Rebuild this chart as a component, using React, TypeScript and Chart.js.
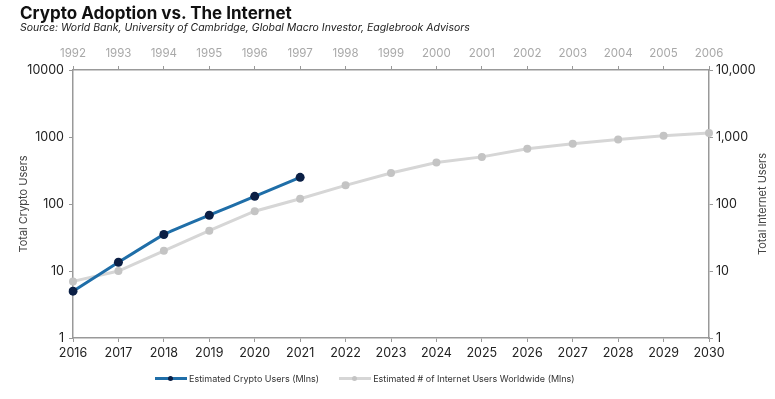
import React, { useEffect, useRef } from "react";
import { Chart, registerables } from "chart.js";

Chart.register(...registerables);

// Bottom axis: calendar years for crypto adoption
const cryptoYears = ["2016", "2017", "2018", "2019", "2020", "2021", "2022", "2023", "2024", "2025", "2026", "2027", "2028", "2029", "2030"];
// Top axis: matching internet-era years
const internetYears = ["1992", "1993", "1994", "1995", "1996", "1997", "1998", "1999", "2000", "2001", "2002", "2003", "2004", "2005", "2006"];

// Estimated crypto users (millions), 2016-2021
const cryptoUsers = [5, 13.5, 35, 68, 130, 250];
// Estimated internet users worldwide (millions), 1992-2006
const internetUsers = [7, 10, 20, 40, 78, 120, 190, 290, 415, 505, 670, 790, 920, 1040, 1150];

const logTicks = [1, 10, 100, 1000, 10000];

const AXIS_GRAY = "#999999";
const FONT = "Inter, 'Open Sans', sans-serif";

export default function App() {
  const canvasRef = useRef<HTMLCanvasElement | null>(null);

  useEffect(() => {
    document.body.style.margin = "0";
    const canvas = canvasRef.current;
    if (!canvas) return;

    const rightTitle = {
      id: "rightTitle",
      afterDraw(chart: any) {
        const { ctx, chartArea } = chart;
        ctx.save();
        ctx.translate(763, (chartArea.top + chartArea.bottom) / 2);
        ctx.rotate(-Math.PI / 2);
        ctx.font = `11px ${FONT}`;
        ctx.fillStyle = "#444";
        ctx.textAlign = "center";
        ctx.textBaseline = "middle";
        ctx.fillText("Total Internet Users", 0, 0);
        ctx.restore();
      },
    };

    const chart = new Chart(canvas, {
      type: "line",
      data: {
        labels: cryptoYears,
        datasets: [
          {
            label: "Estimated # of Internet Users Worldwide (Mlns)",
            data: internetUsers,
            borderColor: "#d6d6d6",
            backgroundColor: "#c4c4c4",
            pointBackgroundColor: "#c4c4c4",
            pointBorderColor: "#c4c4c4",
            borderWidth: 3,
            pointRadius: 4,
            pointBorderWidth: 0,
            tension: 0,
            order: 2,
          },
          {
            label: "Estimated Crypto Users (Mlns)",
            data: cryptoUsers,
            borderColor: "#1f6ea8",
            backgroundColor: "#0b1f45",
            pointBackgroundColor: "#0b1f45",
            pointBorderColor: "#0b1f45",
            borderWidth: 3,
            pointRadius: 4.5,
            pointBorderWidth: 0,
            tension: 0.15,
            order: 1,
          },
        ],
      },
      options: {
        responsive: false,
        animation: false,
        layout: { padding: { top: 40, bottom: 40, left: 0, right: 0 } },
        plugins: {
          legend: { display: false },
          tooltip: { enabled: false },
        },
        scales: {
          x: {
            type: "category",
            position: "bottom",
            offset: false,
            grid: { drawOnChartArea: false, drawTicks: true, tickLength: 4, color: AXIS_GRAY },
            border: { color: AXIS_GRAY, width: 1.5 },
            ticks: { color: "#222", font: { family: FONT, size: 12.5 }, padding: 4, maxRotation: 0, autoSkip: false },
            afterFit: (s: any) => { s.height = 21; },
          },
          x2: {
            type: "category",
            position: "top",
            labels: internetYears,
            offset: false,
            grid: { drawOnChartArea: false, drawTicks: true, tickLength: 4, color: AXIS_GRAY },
            border: { color: AXIS_GRAY, width: 1.5 },
            ticks: { color: "#a8a8a8", font: { family: FONT, size: 11.5 }, padding: 6, maxRotation: 0, autoSkip: false },
            afterFit: (s: any) => { s.height = 30; },
          },
          y: {
            type: "logarithmic",
            position: "left",
            min: 1,
            max: 10000,
            grid: { drawOnChartArea: false, drawTicks: true, tickLength: 4, color: AXIS_GRAY },
            border: { color: AXIS_GRAY, width: 1.5 },
            afterBuildTicks: (s: any) => { s.ticks = logTicks.map((v) => ({ value: v })); },
            ticks: {
              color: "#222",
              font: { family: FONT, size: 12.5 },
              padding: 5,
              callback: (v: any) => String(v),
            },
            title: {
              display: true,
              text: "Total Crypto Users",
              color: "#444",
              font: { family: FONT, size: 11 },
              padding: { top: 17, bottom: 0 },
            },
            afterFit: (s: any) => { s.width = 73; },
          },
          y2: {
            type: "logarithmic",
            position: "right",
            min: 1,
            max: 10000,
            grid: { drawOnChartArea: false, drawTicks: true, tickLength: 4, color: AXIS_GRAY },
            border: { color: AXIS_GRAY, width: 1.5 },
            afterBuildTicks: (s: any) => { s.ticks = logTicks.map((v) => ({ value: v })); },
            ticks: {
              color: "#222",
              font: { family: FONT, size: 12.5 },
              padding: 3,
              callback: (v: any) => Number(v).toLocaleString("en-US"),
            },
            afterFit: (s: any) => { s.width = 66; },
          },
        },
      },
      plugins: [rightTitle],
    });

    return () => chart.destroy();
  }, []);

  const legendLine = (line: string, dot: string) => (
    <span style={{ position: "relative", display: "inline-block", width: 32, height: 8, marginRight: 2, verticalAlign: "middle" }}>
      <span style={{ position: "absolute", left: 0, right: 0, top: 2.5, height: 3, background: line }} />
      <span style={{ position: "absolute", left: 13, top: 1.5, width: 5, height: 5, borderRadius: "50%", background: dot }} />
    </span>
  );

  return (
    <div style={{ position: "relative", width: 775, height: 399, background: "#fff", fontFamily: FONT, overflow: "hidden" }}>
      <canvas ref={canvasRef} width={775} height={399} style={{ position: "absolute", left: 0, top: 0 }} />
      <div style={{ position: "absolute", left: 20, top: 2, fontSize: 17, lineHeight: "22px", fontWeight: 700, color: "#111" }}>
        Crypto Adoption vs. The Internet
      </div>
      <div style={{ position: "absolute", left: 20, top: 21, fontSize: 10.5, lineHeight: "14px", fontStyle: "italic", color: "#222" }}>
        Source: World Bank, University of Cambridge, Global Macro Investor, Eaglebrook Advisors
      </div>
      <div style={{ position: "absolute", left: 155, top: 372, fontSize: 9, lineHeight: "12px", color: "#333", whiteSpace: "nowrap" }}>
        {legendLine("#1f6ea8", "#0b1f45")}
        <span style={{ verticalAlign: "middle" }}>Estimated Crypto Users (Mlns)</span>
        <span style={{ display: "inline-block", width: 20 }} />
        {legendLine("#d6d6d6", "#c4c4c4")}
        <span style={{ verticalAlign: "middle" }}>Estimated # of Internet Users Worldwide (Mlns)</span>
      </div>
    </div>
  );
}
